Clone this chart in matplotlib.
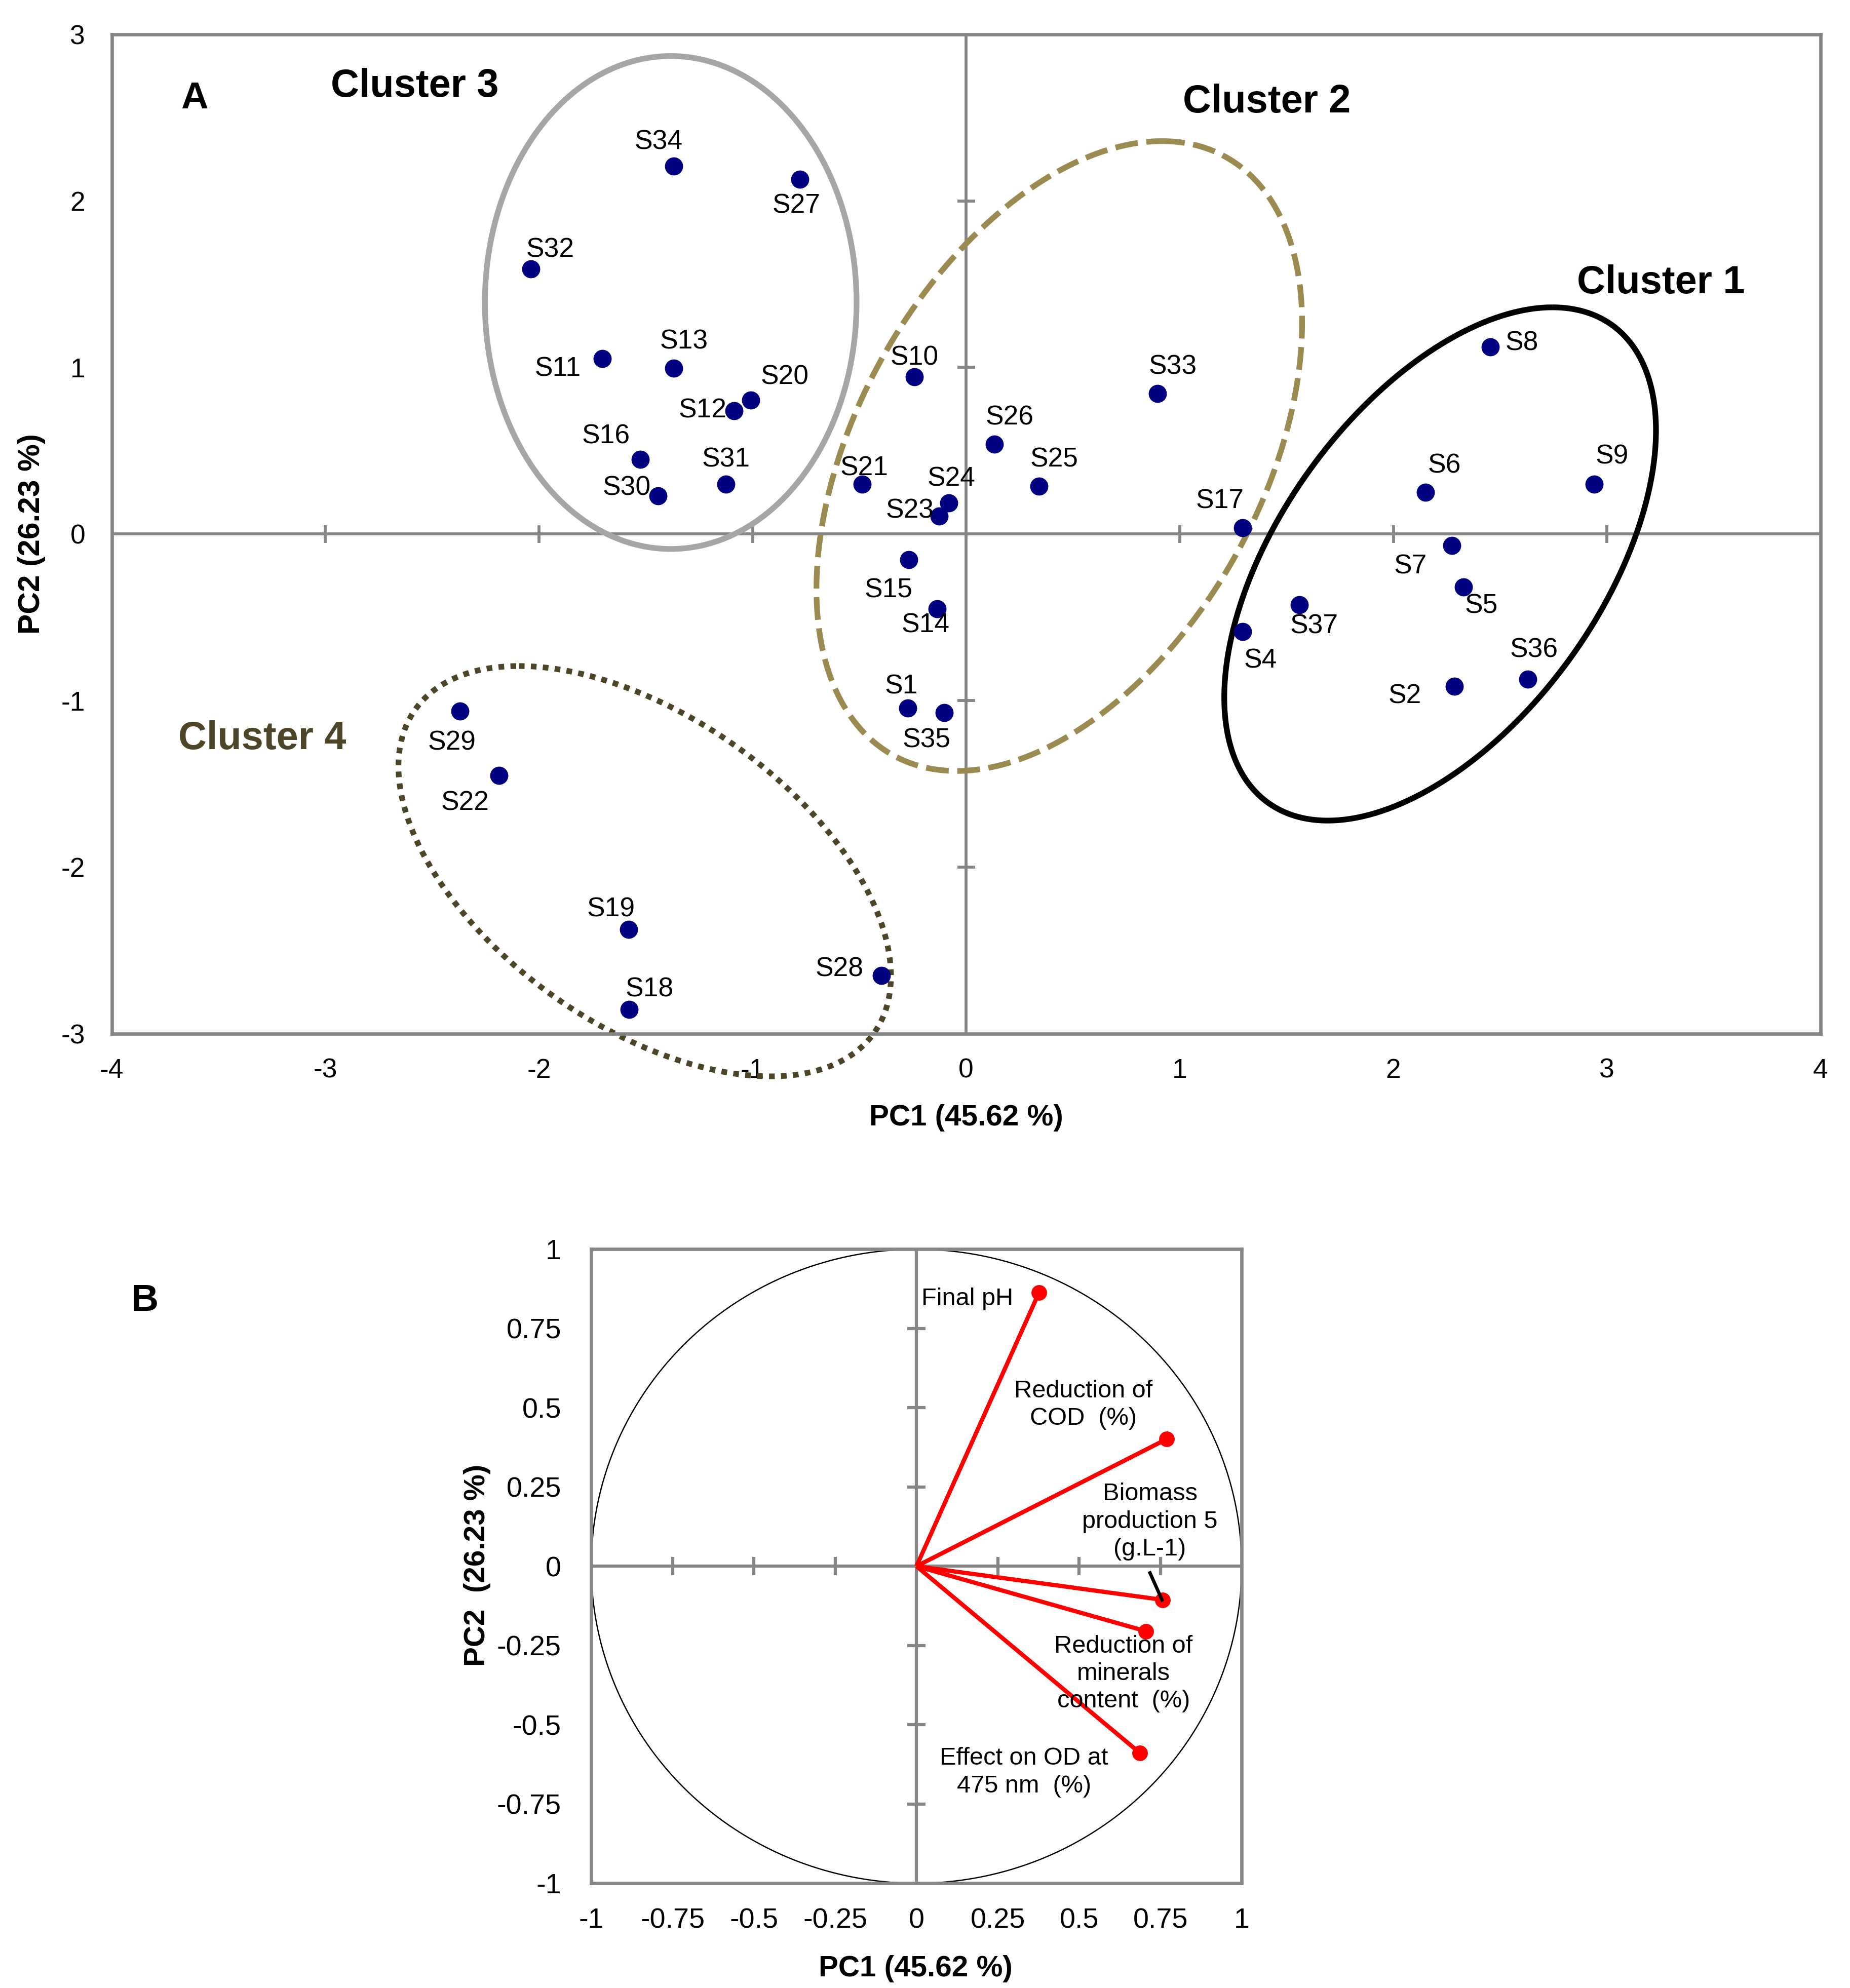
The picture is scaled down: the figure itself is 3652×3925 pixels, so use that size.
import numpy as np
import matplotlib
matplotlib.use('Agg')
import matplotlib.pyplot as plt

plt.rcParams['font.family'] = ['Liberation Sans', 'DejaVu Sans']
plt.rcParams['axes.unicode_minus'] = False

# ---- Panel A: PCA scores ----
samples = ['S1', 'S2', 'S4', 'S5', 'S6', 'S7', 'S8', 'S9', 'S10', 'S11', 'S12', 'S13',
           'S14', 'S15', 'S16', 'S17', 'S18', 'S19', 'S20', 'S21', 'S22', 'S23', 'S24',
           'S25', 'S26', 'S27', 'S28', 'S29', 'S30', 'S31', 'S32', 'S33', 'S34', 'S35',
           'S36', 'S37']
pc1 = [-0.273, 2.285, 1.295, 2.329, 2.150, 2.273, 2.453, 2.940, -0.242, -1.704, -1.086, -1.368,
       -0.136, -0.268, -1.526, 1.295, -1.578, -1.581, -1.009, -0.486, -2.187, -0.127, -0.080,
       0.342, 0.132, -0.778, -0.397, -2.371, -1.442, -1.124, -2.037, 0.897, -1.369, -0.102,
       2.629, 1.559]
pc2 = [-1.045, -0.914, -0.587, -0.319, 0.251, -0.070, 1.122, 0.298, 0.945, 1.052, 0.740, 0.996,
       -0.450, -0.155, 0.448, 0.038, -2.856, -2.375, 0.804, 0.300, -1.449, 0.108, 0.185,
       0.288, 0.539, 2.129, -2.652, -1.063, 0.230, 0.300, 1.593, 0.842, 2.210, -1.072,
       -0.871, -0.425]

# label offsets (points) relative to each marker
label_offsets = {
    'S1': (-3, 10.2), 'S2': (-23.4, -4.8), 'S4': (8.4, -13.8), 'S5': (8.4, -9),
    'S6': (9, 12.6), 'S7': (-19.5, -10), 'S8': (15, 1.8), 'S9': (8.4, 13.2),
    'S10': (0, 8.8), 'S11': (-21, -4.8), 'S12': (-15, 0), 'S13': (4.8, 12.6),
    'S14': (-5.4, -7.8), 'S15': (-9.6, -14.4), 'S16': (-16.2, 10.8), 'S17': (-10.8, 12.6),
    'S18': (9.6, 9.6), 'S19': (-8.4, 9.6), 'S20': (16.2, 10.8), 'S21': (0.9, 7.4),
    'S22': (-16.2, -13.2), 'S23': (-13.8, 2.4), 'S24': (1.2, 11.4), 'S25': (7.2, 12.6),
    'S26': (7.2, 12.6), 'S27': (-1.8, -12.6), 'S28': (-19.8, 3), 'S29': (-3.6, -15),
    'S30': (-15, 3.6), 'S31': (0, 11.5), 'S32': (9, 9), 'S33': (7.2, 12.6),
    'S34': (-7.2, 11.4), 'S35': (-8.4, -13.2), 'S36': (3, 13.8), 'S37': (7.2, -10.2),
}

# cluster outlines: centre, top-point offset (ax, ay), horizontal half-axis bx
clusters = ['Cluster 1', 'Cluster 2', 'Cluster 3', 'Cluster 4']
cl_center = [(2.219, -0.180), (0.436, 0.468), (-1.383, 1.390), (-1.505, -2.025)]
cl_top = [(0.526, 1.541), (0.481, 1.891), (0.0, 1.480), (-0.589, 1.232)]
cl_bx = [0.863, 1.030, 0.870, 0.991]
cl_color = ['black', '#9B8B51', '#A6A6A6', '#4D4527']
cl_style = ['-', (0, (4, 1.5)), '-', (0, (1, 1.1))]
cl_label_pos = [(3.253, 1.508), (1.407, 2.594), (-2.581, 2.688), (-3.295, -1.231)]
cl_label_color = ['black', 'black', 'black', '#4D4527']

# ---- Panel B: correlation circle ----
variables = ['Final pH', 'Reduction of\nCOD  (%)', 'Biomass\nproduction 5\n(g.L-1)',
             'Reduction of\nminerals\ncontent  (%)', 'Effect on OD at\n475 nm  (%)']
load1 = [0.377, 0.769, 0.757, 0.706, 0.687]
load2 = [0.864, 0.401, -0.106, -0.205, -0.589]
var_label_pos = [(0.157, 0.844), (0.513, 0.509), (0.718, 0.141), (0.637, -0.339), (0.331, -0.650)]

GRAY = '#868686'

fig = plt.figure(figsize=(3653 / 300, 3925 / 300), dpi=300)

# Panel A
ax = fig.add_axes([0.0604, 0.4801, 0.9234, 0.5026])
ax.set_xlim(-4, 4)
ax.set_ylim(-3, 3)
for s in ax.spines.values():
    s.set_color(GRAY)
    s.set_linewidth(1.6)
ax.set_xticks(range(-4, 5))
ax.set_xticklabels([str(v) for v in range(-4, 5)])
ax.set_yticks(range(-3, 4))
ax.set_yticklabels([str(v) for v in range(-3, 4)])
ax.tick_params(axis='x', length=0, pad=11.5, labelsize=12.8)
ax.tick_params(axis='y', length=0, pad=12.6, labelsize=12.8)
ax.axhline(0, color=GRAY, lw=1.4, zorder=1)
ax.axvline(0, color=GRAY, lw=1.4, zorder=1)
xt = [-3, -2, -1, 1, 2, 3]
yt = [-2, -1, 1, 2]
ax.plot(xt, np.zeros(len(xt)), ls='none', marker='|', ms=8.4, mew=1.4, color=GRAY, zorder=1)
ax.plot(np.zeros(len(yt)), yt, ls='none', marker='_', ms=8.4, mew=1.4, color=GRAY, zorder=1)

t = np.linspace(0, 2 * np.pi, 400)
for i in range(len(clusters)):
    cx, cy = cl_center[i]
    tx, ty = cl_top[i]
    ex = cx + tx * np.cos(t) + cl_bx[i] * np.sin(t)
    ey = cy + ty * np.cos(t)
    ax.plot(ex, ey, color=cl_color[i], lw=2.7, ls=cl_style[i], zorder=2,
            clip_on=False, solid_capstyle='butt', dash_capstyle='butt')
    ax.text(cl_label_pos[i][0], cl_label_pos[i][1], clusters[i], fontsize=18.6,
            fontweight='bold', color=cl_label_color[i], ha='center', va='center')

ax.plot(pc1, pc2, ls='none', marker='o', ms=7.6, color='#000080', mec='#000080', zorder=5)
for name, x, y in zip(samples, pc1, pc2):
    dx, dy = label_offsets[name]
    ax.annotate(name, (x, y), xytext=(dx, dy), textcoords='offset points',
                ha='center', va='center', fontsize=12.8, zorder=6)

ax.text(-3.612, 2.614, 'A', fontsize=17.8, fontweight='bold', ha='center', va='center')
fig.text(0.5221, 0.4338, 'PC1 (45.62 %)', fontsize=14, fontweight='bold',
         ha='center', va='baseline')
fig.text(0.0172, 0.7314, 'PC2 (26.23 %)', fontsize=14.5, fontweight='bold',
         rotation=90, ha='center', va='center')

# Panel B
bx = fig.add_axes([0.3195, 0.0527, 0.3515, 0.3189])
bx.set_xlim(-1, 1)
bx.set_ylim(-1, 1)
for s in bx.spines.values():
    s.set_color(GRAY)
    s.set_linewidth(1.6)
ticks_b = [-1, -0.75, -0.5, -0.25, 0, 0.25, 0.5, 0.75, 1]
labels_b = ['-1', '-0.75', '-0.5', '-0.25', '0', '0.25', '0.5', '0.75', '1']
bx.set_xticks(ticks_b)
bx.set_xticklabels(labels_b)
bx.set_yticks(ticks_b)
bx.set_yticklabels(labels_b)
bx.tick_params(axis='x', length=0, pad=11.5, labelsize=13.4)
bx.tick_params(axis='y', length=0, pad=14.2, labelsize=13.4)
bx.axhline(0, color=GRAY, lw=1.5, zorder=1)
bx.axvline(0, color=GRAY, lw=1.5, zorder=1)
tb = [-0.75, -0.5, -0.25, 0.25, 0.5, 0.75]
bx.plot(tb, np.zeros(len(tb)), ls='none', marker='|', ms=8.6, mew=1.5, color=GRAY, zorder=1)
bx.plot(np.zeros(len(tb)), tb, ls='none', marker='_', ms=8.6, mew=1.5, color=GRAY, zorder=1)
bx.plot(np.cos(t), np.sin(t), color='black', lw=0.6, zorder=2)

for i in range(len(variables)):
    bx.plot([0, load1[i]], [0, load2[i]], color='#FF0000', lw=2.0, zorder=3,
            solid_capstyle='butt')
    bx.plot(load1[i], load2[i], ls='none', marker='o', ms=6.4, color='#FF0000', zorder=4)
    bx.text(var_label_pos[i][0], var_label_pos[i][1], variables[i], fontsize=11.7,
            ha='center', va='center', multialignment='center', linespacing=1.27, zorder=5)
# leader line for the biomass label
bx.plot([0.718, load1[2] - 0.002], [-0.021, load2[2]], color='black', lw=1.6, zorder=5)

fig.text(0.0782, 0.3456, 'B', fontsize=18, fontweight='bold', ha='center', va='center')
fig.text(0.4949, 0.0059, 'PC1 (45.62 %)', fontsize=14, fontweight='bold',
         ha='center', va='baseline')
fig.text(0.258, 0.2125, 'PC2  (26.23 %)', fontsize=14, fontweight='bold',
         rotation=90, ha='center', va='center')

fig.savefig('out.png', dpi=300)
